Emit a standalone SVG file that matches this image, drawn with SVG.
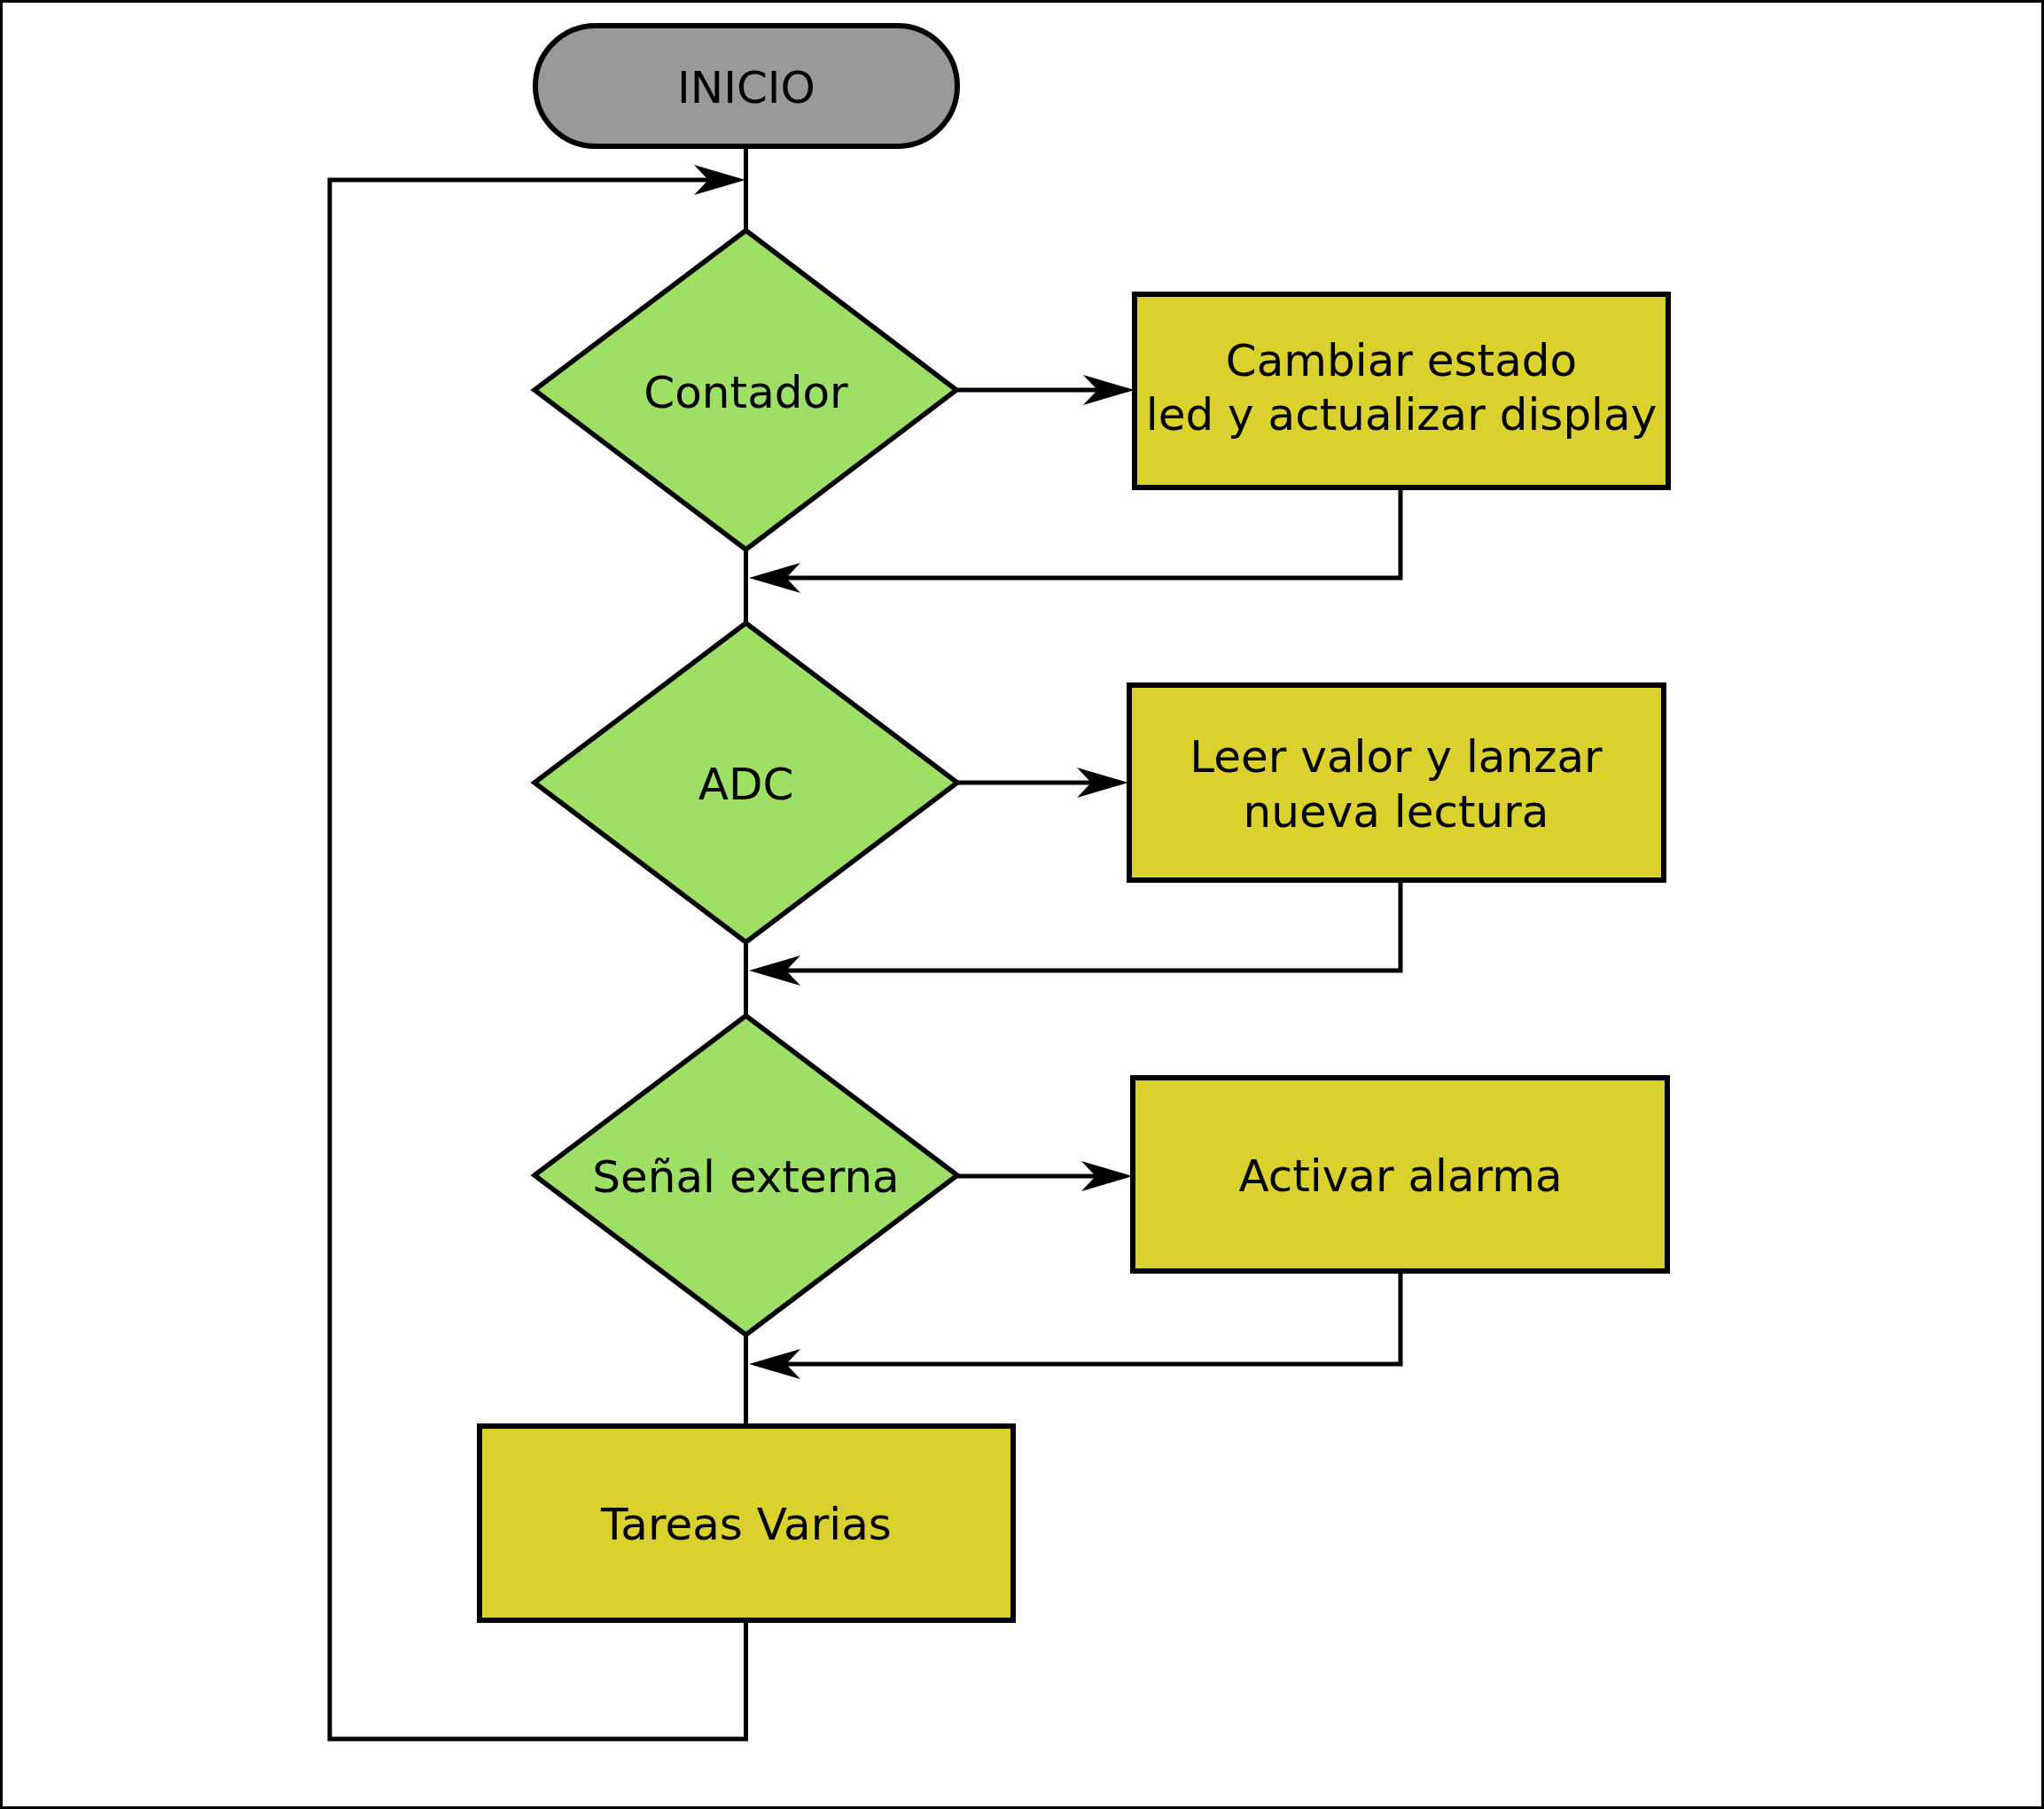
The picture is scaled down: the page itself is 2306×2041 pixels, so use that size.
<svg xmlns="http://www.w3.org/2000/svg" xmlns:xlink="http://www.w3.org/1999/xlink" width="2306" height="2041" viewBox="0 0 2306 2041">
<style>
.frame{fill:#ffffff;stroke:#000;stroke-width:3}
.term{fill:#999999;stroke:#000;stroke-width:6}
.dec{fill:#9ee066;stroke:#000;stroke-width:5.5}
.proc{fill:#dad02e;stroke:#000;stroke-width:6}
.lbl{font-family:"DejaVu Sans","Liberation Sans",sans-serif;font-size:50px;fill:#000;text-anchor:middle}
.conn{fill:none;stroke:#000;stroke-width:5;stroke-linejoin:miter;stroke-linecap:butt}
.head{fill:#000;stroke:none}
</style>
<defs>
<path id="ah" class="head" d="M0,0 L-58,-17 L-42,0 L-58,17 Z"/>
</defs>
<rect class="frame" x="1.5" y="1.5" width="2303" height="2038"/>

<g id="connectors">
<path class="conn" d="M841.5,165 V260"/>
<path class="conn" d="M841.5,620 V703"/>
<path class="conn" d="M841.5,1063 V1146"/>
<path class="conn" d="M841.5,1506 V1609"/>
<path class="conn" d="M841.5,1828 V1962 H372 V203 H800"/>
<use href="#ah" transform="translate(841,203)"/>
<path class="conn" d="M1079,440 H1240"/>
<use href="#ah" transform="translate(1280,440)"/>
<path class="conn" d="M1080,883 H1232"/>
<use href="#ah" transform="translate(1273,883)"/>
<path class="conn" d="M1080,1327 H1238"/>
<use href="#ah" transform="translate(1278,1327)"/>
<path class="conn" d="M1580,550 V652 H886"/>
<use href="#ah" transform="translate(845,652) rotate(180)"/>
<path class="conn" d="M1580,993 V1095 H886"/>
<use href="#ah" transform="translate(845,1095) rotate(180)"/>
<path class="conn" d="M1580,1434 V1539 H886"/>
<use href="#ah" transform="translate(845,1539) rotate(180)"/>
</g>

<g id="inicio">
<rect class="term" x="604" y="29" width="476" height="136" rx="68" ry="68"/>
<text class="lbl" x="842" y="116">INICIO</text>
</g>

<g id="contador">
<polygon class="dec" points="841.5,260 1079,440 841.5,620 603,440"/>
<text class="lbl" x="841.5" y="460">Contador</text>
</g>

<g id="cambiar">
<rect class="proc" x="1280" y="332" width="602" height="218"/>
<text class="lbl" x="1581" y="424">Cambiar estado</text>
<text class="lbl" x="1581" y="485">led y actualizar display</text>
</g>

<g id="adc">
<polygon class="dec" points="841.5,703 1080,883 841.5,1063 603,883"/>
<text class="lbl" x="841.5" y="902">ADC</text>
</g>

<g id="leer">
<rect class="proc" x="1274" y="773" width="603" height="220"/>
<text class="lbl" x="1575" y="871">Leer valor y lanzar</text>
<text class="lbl" x="1575" y="933">nueva lectura</text>
</g>

<g id="senal">
<polygon class="dec" points="841.5,1146 1080,1326 841.5,1506 603,1326"/>
<text class="lbl" x="841.5" y="1345">Señal externa</text>
</g>

<g id="activar">
<rect class="proc" x="1278" y="1216" width="603" height="218"/>
<text class="lbl" x="1580" y="1344">Activar alarma</text>
</g>

<g id="tareas">
<rect class="proc" x="541" y="1609" width="602" height="219"/>
<text class="lbl" x="842" y="1737">Tareas Varias</text>
</g>
</svg>
